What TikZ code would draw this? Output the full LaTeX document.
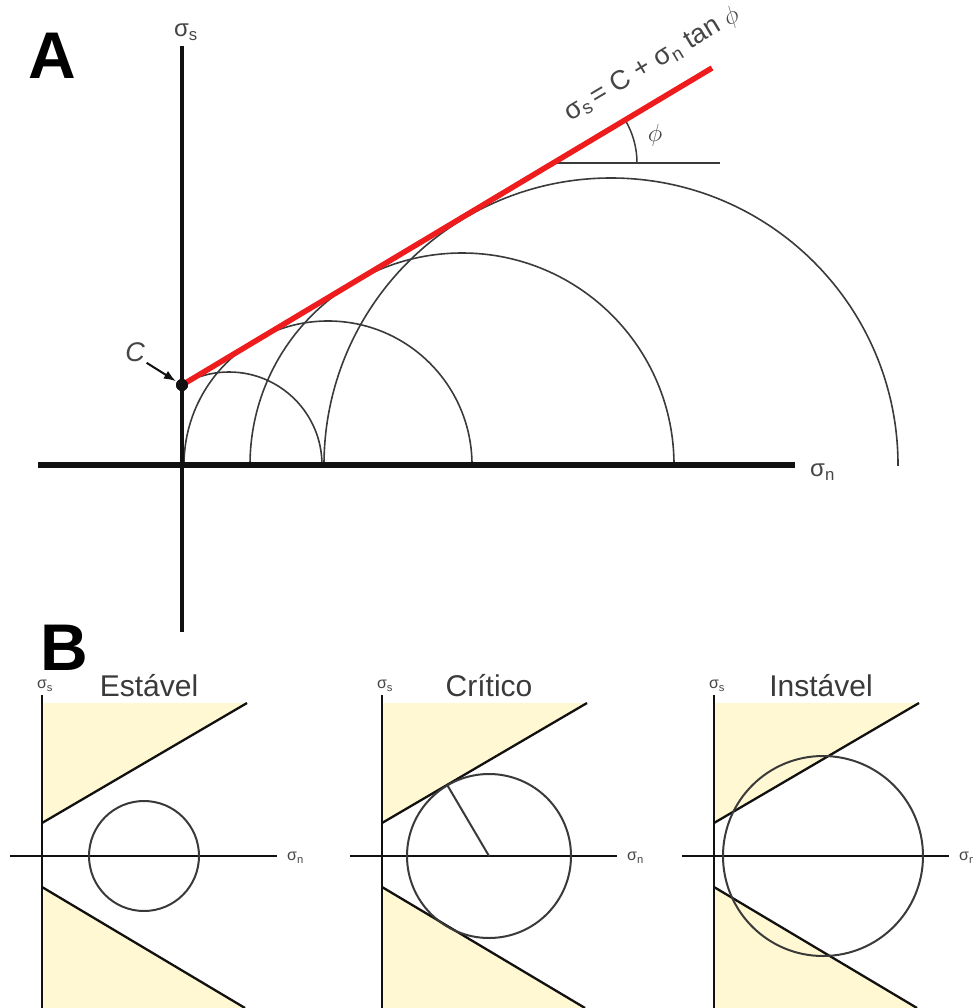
\documentclass[tikz,border=0pt]{standalone}
\usepackage{fontspec}
\setmainfont{Liberation Sans}
\usetikzlibrary{arrows.meta,positioning}
\definecolor{mohrred}{HTML}{EE1C1C}
\definecolor{mohrink}{HTML}{111111}
\definecolor{mohrgray}{HTML}{3A3A3A}
\definecolor{mohrlbl}{HTML}{454545}
\definecolor{mohryel}{HTML}{FFF8D2}
\tikzset{
  axisv/.style={line width=4.5pt, color=mohrink},
  axish/.style={line width=6.5pt, color=mohrink},
  envlp/.style={line width=5.5pt, color=mohrred},
  mohr/.style={line width=1.6pt, color=mohrgray},
  refln/.style={line width=2pt, color=mohrgray},
  carrow/.style={-{Latex[length=12pt,width=9pt]}, line width=2pt, color=mohrink, shorten >=1pt, shorten <=2pt},
  baxis/.style={line width=2.5pt, color=mohrink},
  bline/.style={line width=2.3pt, color=mohrink},
  bcirc/.style={line width=2pt, color=mohrgray},
  yel/.style={fill=mohryel},
  panel/.style={font=\fontsize{66}{66}\selectfont\bfseries, inner sep=0pt},
  axlbl/.style={font=\fontsize{24}{24}\selectfont, color=mohrlbl, inner sep=0pt},
  eqn/.style={font=\fontsize{27}{27}\selectfont, color=mohrlbl, inner sep=0pt},
  smlbl/.style={font=\fontsize{16}{16}\selectfont, color=mohrlbl, inner sep=0pt},
  ttl/.style={font=\fontsize{30}{30}\selectfont, color=mohrgray, inner sep=0pt},
}

\begin{document}
\begin{tikzpicture}[x=1pt,y=-1pt]
  \useasboundingbox (0,0) rectangle (973,1008);
  % A
  \node[panel] (lblA) at (52,56) {A};
  \begin{scope}
    \clip (182,0) rectangle (973,465);
    \foreach \c/\r in {229/93,328/144,462/212,611/287}
      \draw[mohr] (\c,465) circle[radius=\r];
  \end{scope}
  \draw[axisv] (182,46) -- (182,632);
  \draw[axish] (38,465) -- (795,465);
  \node[axlbl] (sigsA) at (186,32) {σ\textsubscript{s}};
  \node[axlbl, anchor=west] (signA) at (810,472) {σ\textsubscript{n}};
  \coordinate (fend) at (712,68);
  \coordinate (phi0) at (553,163);
  \coordinate (phi1) at (720,163);
  \draw[refln] (phi0) -- (phi1);
  \draw[refln, line width=1.5pt] (phi0) ++(84,0) arc[start angle=0, end angle=-30.9, radius=84];
  \node[circle, fill=mohrink, inner sep=0pt, minimum size=12pt] (cdot) at (182,385) {};
  \draw[envlp] (cdot.center) -- (fend);
  \fill[mohrink] (cdot) circle[radius=6];
  \node[axlbl, font=\fontsize{27}{27}\selectfont\itshape] (clbl) at (135,352) {C};
  \draw[carrow] (clbl.south east) -- (cdot);
  \node[eqn, rotate=30.9] (eqn) at (652,64) {σ\textsubscript{s}\,= C + σ\textsubscript{n} tan {\fontsize{32}{32}\selectfont$\phi$}};
  \node[axlbl, font=\fontsize{32}{32}\selectfont] (philbl) at (655,135) {$\phi$};
  % B
  \node[panel] (lblB) at (64,648) {B};
  \foreach \i/\ox/\cx/\r/\ttl in {1/42/102/55/Estável,2/382/107/82/Crítico,3/714/109/100/Instável}{
    \begin{scope}[shift={(\ox,856)}]
      \fill[yel] (0,-153) -- (205,-153) -- (0,-33) -- cycle;
      \fill[yel] (0,31) -- (203,152) -- (0,152) -- cycle;
      \draw[bline] (0,-33) -- (205,-153);
      \draw[bline] (0,31) -- (203,152);
      \draw[baxis] (0,-161) -- (0,152);
      \draw[baxis] (-32,0) -- (235,0);
      \draw[bcirc] (\cx,0) circle[radius=\r];
      \node[smlbl] (ss\i) at (3,-170) {σ\textsubscript{s}};
      \node[smlbl, anchor=west] (sn\i) at (245,2) {σ\textsubscript{n}};
      \node[ttl] (ttl\i) at (107,-170) {\ttl};
    \end{scope}
  }
  \coordinate (c2) at (489,856);
  \coordinate (t2) at (447.4,785.3);
  \draw[bcirc] (c2) -- (t2);
\end{tikzpicture}
\end{document}
